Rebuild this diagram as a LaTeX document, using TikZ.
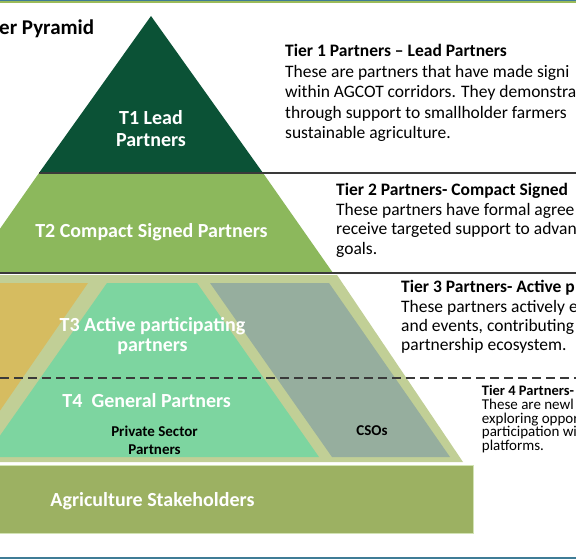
\documentclass[tikz,border=0pt]{standalone}
\usepackage{fontspec}
\setmainfont{Carlito}
\definecolor{tonecol}{HTML}{0B5236}
\definecolor{ttwocol}{HTML}{8CB85C}
\definecolor{olivebg}{HTML}{C1CF96}
\definecolor{yelcol}{HTML}{D6BC60}
\definecolor{mintcol}{HTML}{7DD5A0}
\definecolor{greycol}{HTML}{96AE9E}
\definecolor{basecol}{HTML}{9CB162}
\definecolor{palegreen}{HTML}{D2E3B4}
\definecolor{sepcol}{HTML}{3A3A3A}
\definecolor{bordblue}{HTML}{3F7C96}
\definecolor{bordgreen}{HTML}{9BBB59}
\begin{document}
\begin{tikzpicture}[x=1pt,y=-1pt,
  lbl/.style={text=white,font=\fontsize{20}{24}\selectfont\bfseries,inner sep=0pt,anchor=base},
  sublbl/.style={text=black,font=\fontsize{15}{18}\selectfont\bfseries,inner sep=0pt,anchor=base},
  desc/.style={text=black,font=\fontsize{17.5}{20}\selectfont,inner sep=0pt,anchor=base west},
  desct/.style={text=black,font=\fontsize{17.5}{20}\selectfont\bfseries,inner sep=0pt,anchor=base west},
  smalldesc/.style={text=black,font=\fontsize{15}{14}\selectfont,inner sep=0pt,anchor=base west},
  smalldesct/.style={text=black,font=\fontsize{14.5}{14}\selectfont\bfseries,inner sep=0pt,anchor=base west},
  sepline/.style={draw=sepcol,line width=1.5pt},
]
\useasboundingbox (0,0) rectangle (576,559);
\clip (0,0) rectangle (576,559);
\fill[white] (0,0) rectangle (576,559);
% borders
\fill[bordblue] (0,0) rectangle (576,1.2);
\fill[bordgreen] (0,1.2) rectangle (576,3.2);
\fill[bordblue] (0,556.5) rectangle (576,559);
% pyramid
\fill[tonecol] (151,16) -- (263,173) -- (39,173) -- cycle;
\fill[ttwocol] (39,173) -- (263,173) -- (333,273) -- (-31,273) -- cycle;
\fill[olivebg] (-60,275) -- (337,275) -- (463,462) -- (-60,462) -- cycle;
\fill[yelcol] (-100,283) -- (88,283) -- (-32,457) -- (-100,457) -- cycle;
\fill[mintcol] (107,283) -- (197,283) -- (319,457) -- (-15,457) -- cycle;
\fill[greycol] (210,283) -- (329,283) -- (450,457) -- (332,457) -- cycle;
\draw[fill=basecol,draw=palegreen,line width=1pt] (-2,465) rectangle (473,533);
% separators
\draw[sepline] (39,173) -- (576,173);
\draw[sepline] (-1,273) -- (576,273);
\draw[sepline,line width=1.3pt,dash pattern=on 9pt off 5pt] (0,378) -- (576,378);
% title
\node[text=black,font=\fontsize{21}{24}\selectfont\bfseries,inner sep=0pt,anchor=base west] (title) at (-1,35) {er Pyramid};
% pyramid labels
\node[lbl] (t1a) at (151,125) {T1 Lead};
\node[lbl] (t1b) at (151,146.7) {Partners};
\node[lbl] (t2) at (151.5,237.3) {T2 Compact Signed Partners};
\node[lbl] (t3a) at (152.5,331.7) {T3 Active participating};
\node[lbl] (t3b) at (152.5,351.7) {partners};
\node[lbl] (t4) at (146.7,407.3) {T4\ \ General Partners};
\node[sublbl] (psa) at (154.5,436.7) {Private Sector};
\node[sublbl] (psb) at (154.5,454) {Partners};
\node[sublbl] (cso) at (372,435) {CSOs};
\node[lbl] (agri) at (152.5,506.7) {Agriculture Stakeholders};
% Tier 1 description
\node[desct] (d1h) at (285,57) {Tier 1 Partners – Lead Partners};
\node[desc] (d1a) at (285,77.5) {These are partners that have made signi};
\node[desc] (d1b) at (285,98) {within AGCOT corridors. They demonstra};
\node[desc] (d1c) at (285,118.5) {through support to smallholder farmers};
\node[desc] (d1d) at (285,139) {sustainable agriculture.};
% Tier 2 description
\node[desct] (d2h) at (336,196) {Tier 2 Partners- Compact Signed};
\node[desc] (d2a) at (336,215.3) {These partners have formal agree};
\node[desc] (d2b) at (336,234.6) {receive targeted support to advan};
\node[desc] (d2c) at (336,254) {goals.};
% Tier 3 description
\node[desct] (d3h) at (401,292.7) {Tier 3 Partners- Active p};
\node[desc] (d3a) at (401,312.7) {These partners actively e};
\node[desc] (d3b) at (401,331.7) {and events, contributing};
\node[desc] (d3c) at (401,350.5) {partnership ecosystem.};
% Tier 4 description
\node[smalldesct] (d4h) at (481.7,395) {Tier 4 Partners-};
\node[smalldesc] (d4a) at (481.7,409.5) {These are newl};
\node[smalldesc] (d4b) at (481.7,423.2) {exploring oppor};
\node[smalldesc] (d4c) at (481.7,436.8) {participation wi};
\node[smalldesc] (d4d) at (481.7,450.5) {platforms.};
\end{tikzpicture}
\end{document}
